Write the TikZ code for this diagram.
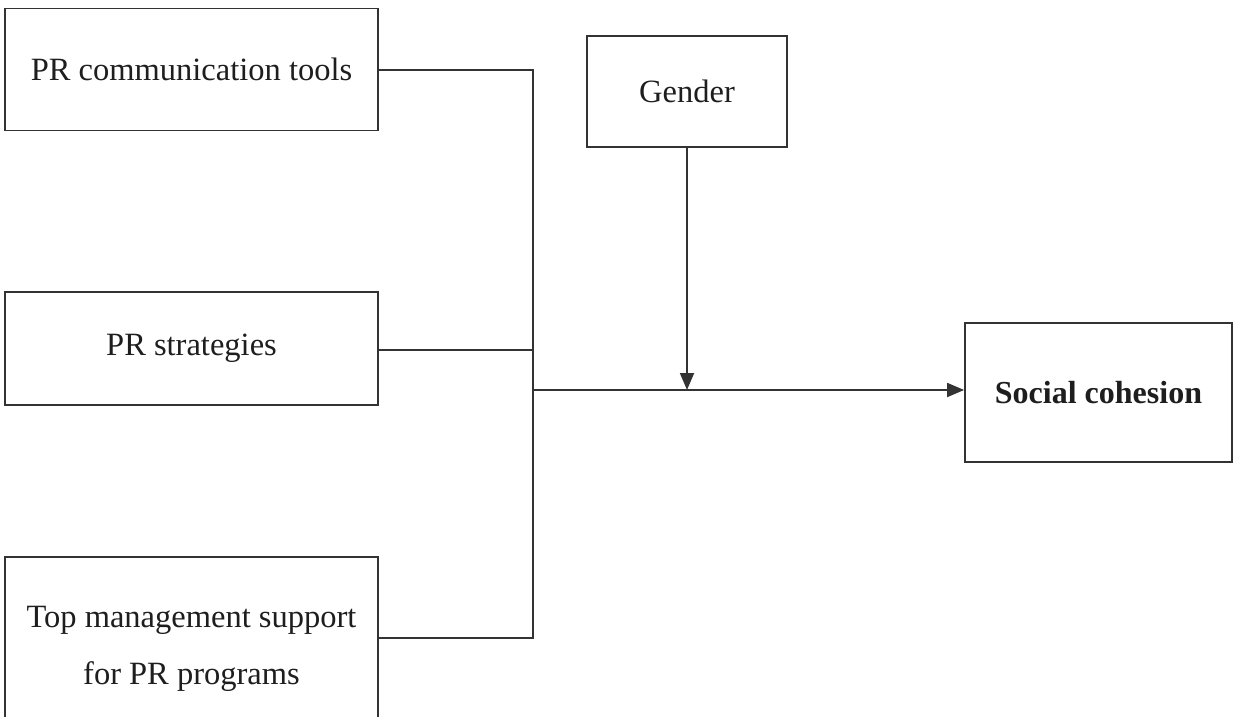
\documentclass[tikz,border=0pt]{standalone}
\usepackage{fontspec}
\setmainfont{Liberation Serif}
\usetikzlibrary{arrows.meta}
\definecolor{ink}{HTML}{333333}
\definecolor{txt}{HTML}{1E1E1E}
\tikzset{
  box/.style={draw=ink, line width=1.8pt, rectangle, inner sep=0pt, text=txt,
    font=\fontsize{32.5}{57}\selectfont, align=center},
  conn/.style={draw=ink, line width=1.8pt},
  arr/.style={conn, -{Triangle[length=17pt,width=14pt]}}
}
\begin{document}
\begin{tikzpicture}[x=1pt,y=-1pt]
\clip (0,0) rectangle (1233,716);
\fill[white] (0,0) rectangle (1233,716);
\node[box, minimum width=373pt, minimum height=122pt] (b1) at (191.5,69.5) {PR communication tools};
\node[box, minimum width=373pt, minimum height=113pt] (b2) at (191.5,348.5) {PR strategies};
\node[box, minimum width=373pt, minimum height=183pt] (b3) at (191.5,648.5) {Top management support\\for PR programs};
\node[box, minimum width=200pt, minimum height=111pt] (g) at (687,91.5) {Gender};
\node[box, minimum width=267pt, minimum height=139pt, font=\fontsize{32}{38}\bfseries\selectfont] (sc) at (1098.5,392.5) {Social cohesion};
\coordinate (j1) at (533,70);
\coordinate (j2) at (533,350);
\coordinate (j3) at (533,638);
\coordinate (jm) at (533,390);
\coordinate (gm) at (687,390);
\draw[conn] (j1 -| b1.east) -- (j1) -- (j3) -- (j3 -| b3.east);
\draw[conn] (j2 -| b2.east) -- (j2);
\draw[arr] (jm) -- (jm -| sc.west);
\draw[arr] (g.south) -- (gm);
\end{tikzpicture}
\end{document}
